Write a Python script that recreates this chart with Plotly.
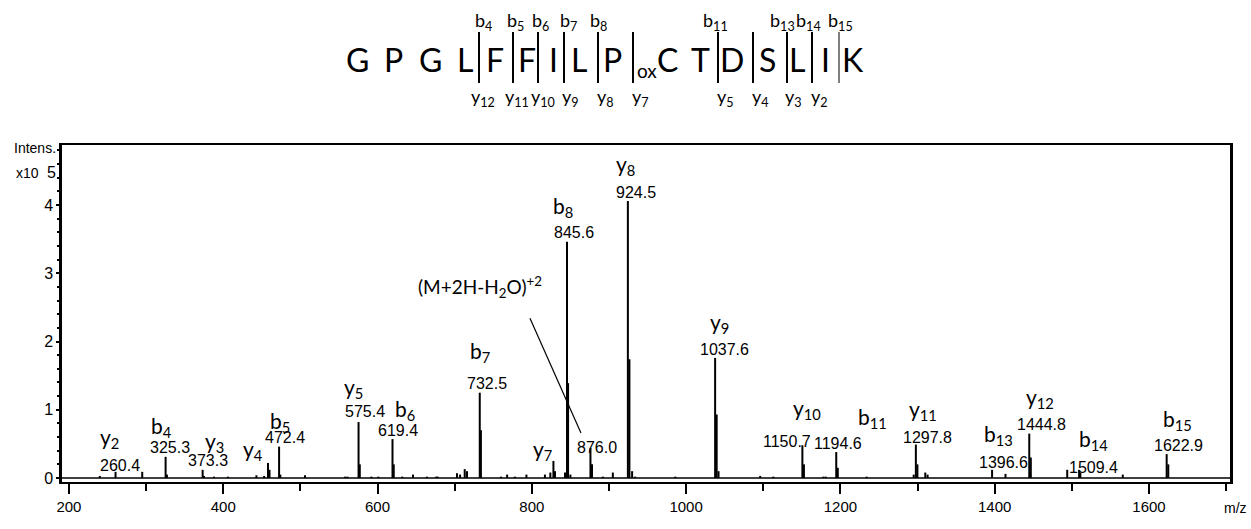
import plotly.graph_objects as go

# ---------------- data ----------------
# labelled fragment peaks (m/z, intensity x10^5)
peak_mz = [260.4, 325.3, 373.3, 458.0, 472.4, 575.4, 619.4, 732.5, 828.0, 845.6,
           876.0, 924.5, 1037.6, 1150.7, 1194.6, 1297.8, 1396.6, 1444.8, 1509.4, 1622.9]
peak_int = [0.09, 0.31, 0.12, 0.22, 0.46, 0.82, 0.57, 1.25, 0.25, 3.46,
            0.44, 4.06, 1.76, 0.48, 0.38, 0.49, 0.12, 0.65, 0.12, 0.35]

# isotope / minor peaks
minor_mz = [240, 295, 327, 375, 388, 406, 443, 453, 460, 474, 506, 558, 561, 577, 592, 601,
            621, 632, 646, 664, 676, 678, 703, 707, 713, 716, 734, 760, 768, 778, 793, 817,
            824, 830, 843, 847, 850, 878, 892, 905, 926.5, 930, 934, 986, 1039.6, 1042, 1096,
            1113, 1152.7, 1178, 1181, 1196.6, 1234, 1295, 1299.8, 1310, 1313, 1414, 1446.8,
            1494, 1511, 1566, 1625]
minor_int = [0.03, 0.09, 0.05, 0.03, 0.02, 0.02, 0.04, 0.03, 0.12, 0.05, 0.04, 0.02, 0.02, 0.2, 0.02, 0.02,
             0.2, 0.02, 0.05, 0.02, 0.02, 0.02, 0.07, 0.05, 0.13, 0.1, 0.7, 0.02, 0.05, 0.02, 0.05, 0.05,
             0.08, 0.1, 0.08, 1.39, 0.05, 0.2, 0.02, 0.08, 1.74, 0.1, 0.02, 0.02, 0.93, 0.1, 0.03,
             0.02, 0.2, 0.02, 0.02, 0.15, 0.02, 0.05, 0.2, 0.08, 0.05, 0.06, 0.3,
             0.12, 0.08, 0.05, 0.2]

# ion names and value labels
ion_names = ["y<sub>2</sub>", "b<sub>4</sub>", "y<sub>3</sub>", "y<sub>4</sub>", "b<sub>5</sub>",
             "y<sub>5</sub>", "b<sub>6</sub>", "b<sub>7</sub>", "y<sub>7</sub>", "b<sub>8</sub>",
             "y<sub>8</sub>", "y<sub>9</sub>", "y<sub>10</sub>", "b<sub>11</sub>", "y<sub>11</sub>",
             "b<sub>13</sub>", "y<sub>12</sub>", "b<sub>14</sub>", "b<sub>15</sub>"]
value_labels = ["260.4", "325.3", "373.3", "472.4", "575.4", "619.4", "732.5", "845.6", "876.0",
                "924.5", "1037.6", "1150.7", "1194.6", "1297.8", "1396.6", "1444.8", "1509.4", "1622.9"]

sequence = ["G", "P", "G", "L", "F", "F", "I", "L", "P", "C", "T", "D", "S", "L", "I", "K"]
b_top = ["b<sub>4</sub>", "b<sub>5</sub>", "b<sub>6</sub>", "b<sub>7</sub>", "b<sub>8</sub>",
         "b<sub>11</sub>", "b<sub>13</sub>", "b<sub>14</sub>", "b<sub>15</sub>"]
y_bottom = ["y<sub>12</sub>", "y<sub>11</sub>", "y<sub>10</sub>", "y<sub>9</sub>", "y<sub>8</sub>",
            "y<sub>7</sub>", "y<sub>5</sub>", "y<sub>4</sub>", "y<sub>3</sub>", "y<sub>2</sub>"]

x_ticks = [200, 400, 600, 800, 1000, 1200, 1400, 1600]
y_ticks = [0, 1, 2, 3, 4]

# ---------------- layout / style positions ----------------
ion_pos = [(253.2, 0.59), (320.6, 0.75), (389.3, 0.53), (438.5, 0.41), (473.5, 0.82),
           (568.2, 1.32), (635.6, 1.0), (732.8, 1.85), (813.2, 0.41), (840.4, 3.97),
           (920.8, 4.59), (1043.9, 2.27), (1156.7, 1.01), (1241.0, 0.88), (1307.1, 1.0),
           (1404.3, 0.63), (1458.8, 1.17), (1527.5, 0.56), (1636.3, 0.85)]
val_pos = [(266.1, 0.19), (330.9, 0.44), (380.2, 0.26), (480.0, 0.59), (583.7, 0.97),
           (626.5, 0.70), (741.9, 1.39), (854.7, 3.59), (884.5, 0.44), (935.0, 4.19),
           (1049.1, 1.89), (1130.8, 0.53), (1196.9, 0.51), (1312.3, 0.60), (1410.8, 0.23),
           (1460.1, 0.78), (1527.5, 0.16), (1637.6, 0.48)]

W, H = 1251, 529
L, R, T, B = 62, 1230, 145, 482  # plot frame in page pixels


def px(x):
    return (x - L) / (R - L)


def py(y):
    return (B - y) / (B - T)


seq_x = [357, 393, 430, 465, 495, 527, 553, 579, 612, 667, 700, 732, 767, 797, 825, 853]
bar_x = [479, 513, 538, 564, 598, 633, 718, 753, 787, 812, 839]
b_top_x = [483, 515, 540, 568, 598, 715, 782, 808, 840]
y_bot_x = [483, 517, 543, 570, 605, 640, 725, 760, 793, 819]

CAL = "Lato, Open Sans, sans-serif"
ARI = "Liberation Sans, Arial, sans-serif"

# ---------------- traces ----------------
xs, ys = [], []
for m, h in zip(peak_mz + minor_mz, peak_int + minor_int):
    xs += [m, m, None]
    ys += [0, h, None]

fig = go.Figure()
fig.add_trace(go.Scatter(x=xs, y=ys, mode="lines", line=dict(color="black", width=2),
                         hoverinfo="skip", showlegend=False))

ann = []
for t, (x, y) in zip(ion_names, ion_pos):
    ann.append(dict(x=x, y=y, text=t, showarrow=False, font=dict(family=CAL, size=21, color="black"),
                    xanchor="center", yanchor="middle"))
for t, (x, y) in zip(value_labels, val_pos):
    ann.append(dict(x=x, y=y, text=t, showarrow=False, font=dict(family=ARI, size=16, color="black"),
                    xanchor="center", yanchor="middle"))
ann.append(dict(x=732.8, y=2.80, text="(M+2H-H<sub>2</sub>O)<sup>+2</sup>", showarrow=False,
                font=dict(family=CAL, size=19, color="black"), xanchor="center", yanchor="middle"))

# sequence header
for t, x in zip(sequence, seq_x):
    ann.append(dict(x=px(x), y=py(59), xref="paper", yref="paper", text=t, showarrow=False,
                    font=dict(family=CAL, size=32, color="black"), xanchor="center", yanchor="middle"))
ann.append(dict(x=px(647), y=py(71), xref="paper", yref="paper", text="ox", showarrow=False,
                font=dict(family=CAL, size=19, color="black"), xanchor="center", yanchor="middle"))
for t, x in zip(b_top, b_top_x):
    ann.append(dict(x=px(x), y=py(22), xref="paper", yref="paper", text=t, showarrow=False,
                    font=dict(family=CAL, size=18, color="black"), xanchor="center", yanchor="middle"))
for t, x in zip(y_bottom, y_bot_x):
    ann.append(dict(x=px(x), y=py(98), xref="paper", yref="paper", text=t, showarrow=False,
                    font=dict(family=CAL, size=18, color="black"), xanchor="center", yanchor="middle"))

# axis captions
ann.append(dict(x=px(58), y=py(148), xref="paper", yref="paper", text="Intens.", showarrow=False,
                font=dict(family=ARI, size=14, color="black"), xanchor="right", yanchor="middle"))
ann.append(dict(x=px(41), y=py(173), xref="paper", yref="paper", text="x10", showarrow=False,
                font=dict(family=ARI, size=14, color="black"), xanchor="right", yanchor="middle"))
ann.append(dict(x=px(58), y=py(172), xref="paper", yref="paper", text="5", showarrow=False,
                font=dict(family=ARI, size=16, color="black"), xanchor="right", yanchor="middle"))
ann.append(dict(x=px(1235), y=py(508), xref="paper", yref="paper", text="m/z", showarrow=False,
                font=dict(family=ARI, size=14, color="black"), xanchor="center", yanchor="middle"))

shapes = []
for x in bar_x:
    shapes.append(dict(type="line", xref="paper", yref="paper", x0=px(x), x1=px(x), y0=py(32), y1=py(83),
                       line=dict(color="black", width=2 if x != 839 else 1)))
# baseline at zero intensity
shapes.append(dict(type="line", xref="paper", yref="y", x0=0, x1=1, y0=0, y1=0,
                   line=dict(color="black", width=1.5)))
# leader line for precursor annotation
shapes.append(dict(type="line", xref="x", yref="y", x0=797.6, y0=2.34, x1=863.7, y1=0.66,
                   line=dict(color="black", width=1.2)))

fig.update_layout(
    width=W, height=H,
    margin=dict(l=L, r=W - R, t=T, b=H - B),
    plot_bgcolor="white", paper_bgcolor="white",
    annotations=ann, shapes=shapes,
    xaxis=dict(range=[191, 1705], tickvals=x_ticks, ticks="outside", ticklen=10, tickwidth=2,
               tickcolor="black", showline=True, linecolor="black", linewidth=2, mirror=True,
               showgrid=False, zeroline=False, automargin=False,
               tickfont=dict(family=ARI, size=15, color="black"),
               minor=dict(dtick=100, tick0=0, ticks="outside", ticklen=7, tickwidth=1.5, tickcolor="black",
                          showgrid=False)),
    yaxis=dict(range=[-0.0586, 4.879], tickvals=y_ticks, ticks="outside", ticklen=3, tickwidth=2,
               tickcolor="black", showline=True, linecolor="black", linewidth=2.5, mirror=True,
               showgrid=False, zeroline=False, automargin=False,
               tickfont=dict(family=ARI, size=16, color="black"),
               minor=dict(dtick=0.2, tick0=0, ticks="outside", ticklen=2, tickwidth=1.5, tickcolor="black",
                          showgrid=False)),
)

fig.write_html("out.html", config={"displayModeBar": False},
               post_script="document.body.style.margin='0';document.body.style.overflow='hidden';")
